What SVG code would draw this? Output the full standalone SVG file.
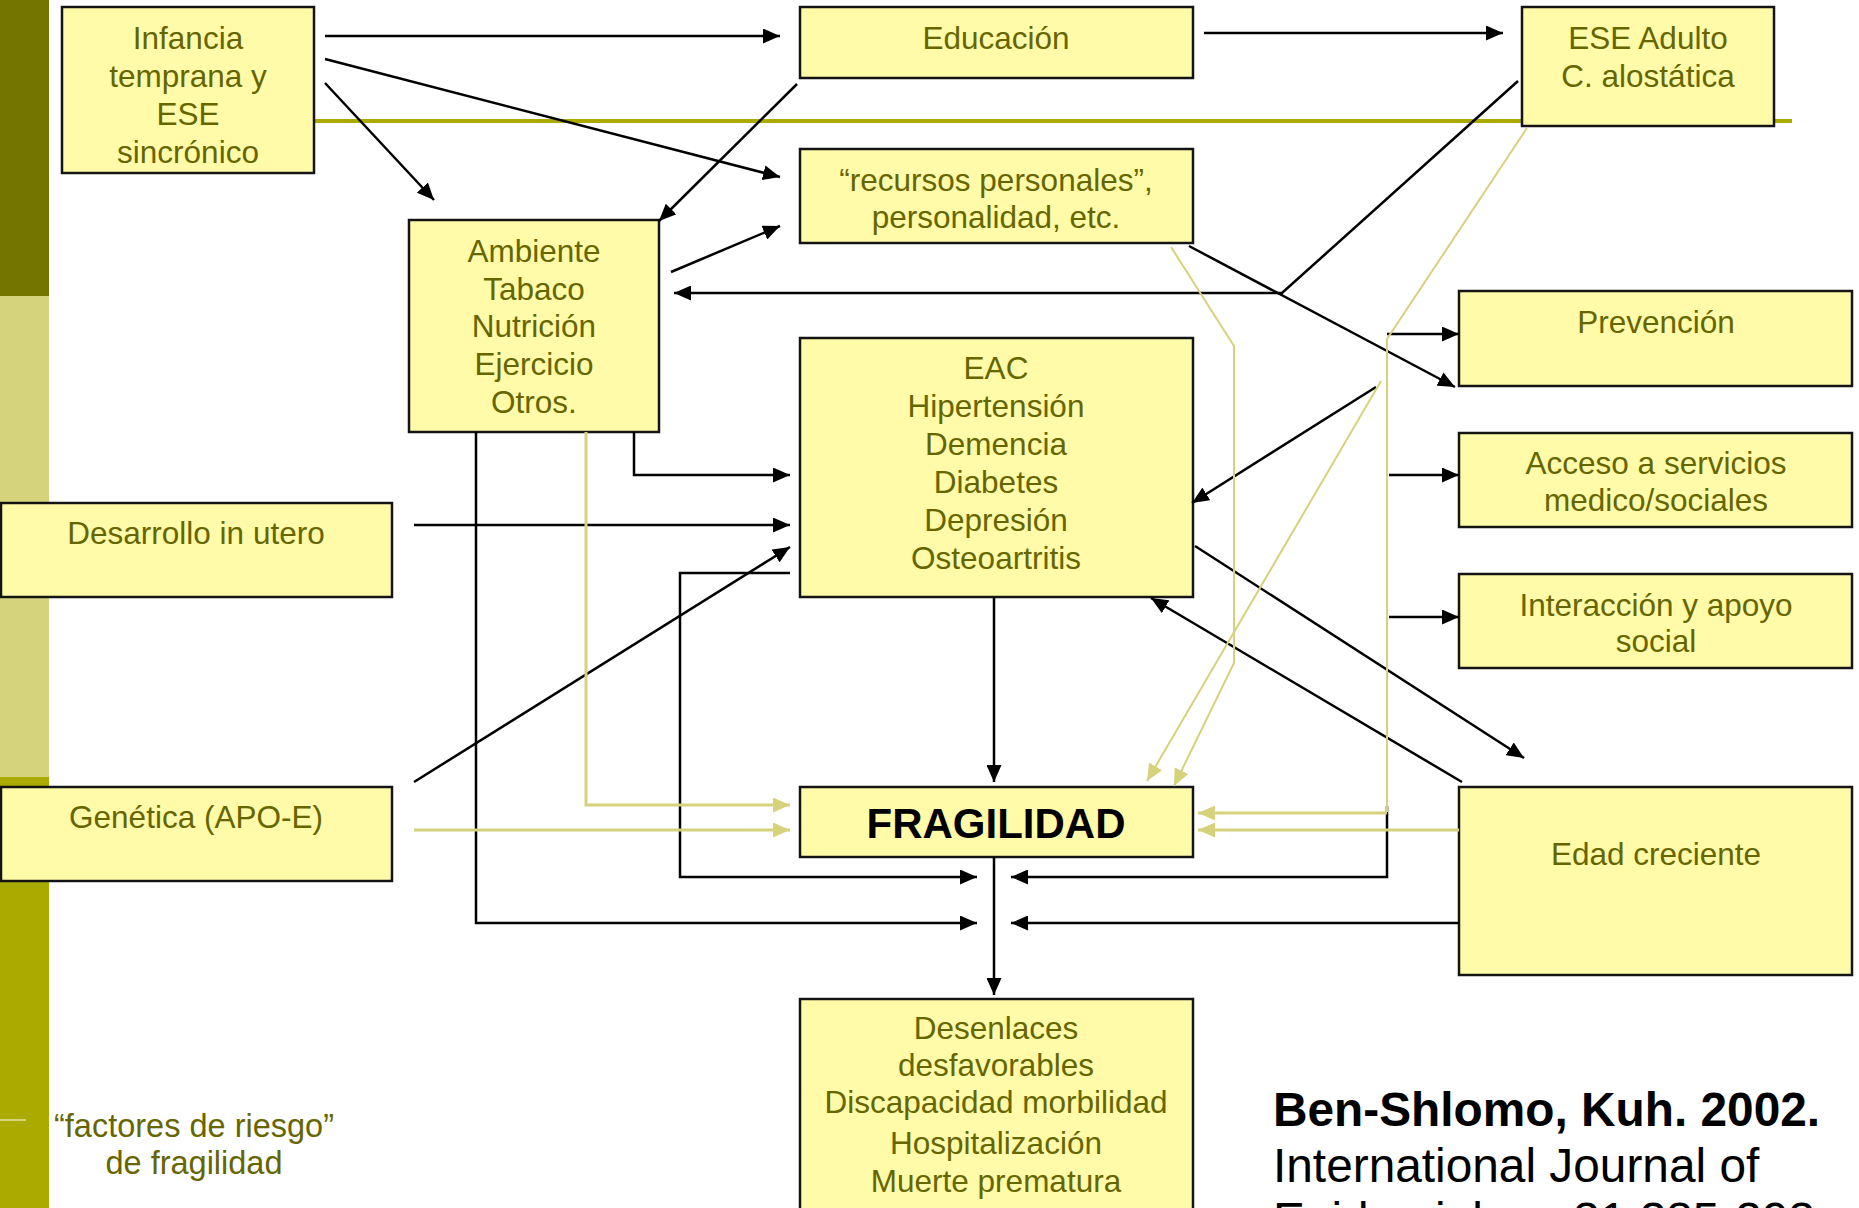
<svg xmlns="http://www.w3.org/2000/svg" width="1859" height="1208" viewBox="0 0 1859 1208">
  <defs>
    <style>
      .box { fill: #FFFBA8; stroke: #141414; stroke-width: 2.5; }
      .t { font-family: "Liberation Sans", Arial, Helvetica, sans-serif; font-size: 31.5px; fill: #666600; text-anchor: middle; }
      .tb { font-family: "Liberation Sans", Arial, Helvetica, sans-serif; font-size: 42px; font-weight: bold; fill: #000; text-anchor: middle; }
      .cite { font-family: "Liberation Sans", Arial, Helvetica, sans-serif; font-size: 47.8px; fill: #000; }
      .k { fill: none; stroke: #000; stroke-width: 2.5; marker-end: url(#arrowK); }
      .y { fill: none; stroke: #D6D27C; stroke-width: 2; }
      .ya { fill: none; stroke: #D6D27C; stroke-width: 2; marker-end: url(#arrowY); }
      .yw { fill: none; stroke: #D6D27C; stroke-width: 3; marker-end: url(#arrowY); }
    </style>
    <marker id="arrowK" markerUnits="userSpaceOnUse" markerWidth="17" markerHeight="15" refX="17" refY="7.5" orient="auto">
      <path d="M0,0 L17,7.5 L0,15 Z" fill="#000"/>
    </marker>
    <marker id="arrowY" markerUnits="userSpaceOnUse" markerWidth="17" markerHeight="15" refX="17" refY="7.5" orient="auto">
      <path d="M0,0 L17,7.5 L0,15 Z" fill="#D6D27C"/>
    </marker>
  </defs>

  <rect width="1859" height="1208" fill="#fff"/>

  <!-- side band and divider -->
  <g id="background">
    <rect x="0" y="0" width="49" height="296" fill="#747400"/>
    <rect x="0" y="296" width="49" height="481" fill="#D5D37B"/>
    <rect x="0" y="777" width="49" height="431" fill="#AAAA00"/>
    <line x1="0" y1="1120" x2="26" y2="1120" stroke="#D5D37B" stroke-width="2"/>
    <line x1="70" y1="121" x2="1792" y2="121" stroke="#AAAA00" stroke-width="4"/>
  </g>

  <g id="nodes">
    <g id="node-infancia">
      <rect class="box" x="62" y="7" width="252" height="166"/>
      <text class="t" x="188" y="49">Infancia</text>
      <text class="t" x="188" y="87">temprana y</text>
      <text class="t" x="188" y="125">ESE</text>
      <text class="t" x="188" y="163">sincrónico</text>
    </g>
    <g id="node-educacion">
      <rect class="box" x="800" y="7" width="393" height="71"/>
      <text class="t" x="996" y="49">Educación</text>
    </g>
    <g id="node-ese-adulto">
      <rect class="box" x="1522" y="7" width="252" height="119"/>
      <text class="t" x="1648" y="49">ESE Adulto</text>
      <text class="t" x="1648" y="87">C. alostática</text>
    </g>
    <g id="node-recursos">
      <rect class="box" x="800" y="149" width="393" height="94"/>
      <text class="t" x="996" y="191">“recursos personales”,</text>
      <text class="t" x="996" y="228">personalidad, etc.</text>
    </g>
    <g id="node-ambiente">
      <rect class="box" x="409" y="220" width="250" height="212"/>
      <text class="t" x="534" y="262">Ambiente</text>
      <text class="t" x="534" y="300">Tabaco</text>
      <text class="t" x="534" y="337">Nutrición</text>
      <text class="t" x="534" y="375">Ejercicio</text>
      <text class="t" x="534" y="413">Otros.</text>
    </g>
    <g id="node-eac">
      <rect class="box" x="800" y="338" width="393" height="259"/>
      <text class="t" x="996" y="379">EAC</text>
      <text class="t" x="996" y="417">Hipertensión</text>
      <text class="t" x="996" y="455">Demencia</text>
      <text class="t" x="996" y="493">Diabetes</text>
      <text class="t" x="996" y="531">Depresión</text>
      <text class="t" x="996" y="569">Osteoartritis</text>
    </g>
    <g id="node-desarrollo">
      <rect class="box" x="1" y="503" width="391" height="94"/>
      <text class="t" x="196" y="544">Desarrollo in utero</text>
    </g>
    <g id="node-genetica">
      <rect class="box" x="1" y="787" width="391" height="94"/>
      <text class="t" x="196" y="828">Genética (APO-E)</text>
    </g>
    <g id="node-fragilidad">
      <rect class="box" x="800" y="787" width="393" height="70"/>
      <text class="tb" x="996" y="838">FRAGILIDAD</text>
    </g>
    <g id="node-desenlaces">
      <rect class="box" x="800" y="999" width="393" height="240"/>
      <text class="t" x="996" y="1039">Desenlaces</text>
      <text class="t" x="996" y="1076">desfavorables</text>
      <text class="t" x="996" y="1113">Discapacidad morbilidad</text>
      <text class="t" x="996" y="1154">Hospitalización</text>
      <text class="t" x="996" y="1192">Muerte prematura</text>
    </g>
    <g id="node-prevencion">
      <rect class="box" x="1459" y="291" width="393" height="95"/>
      <text class="t" x="1656" y="333">Prevención</text>
    </g>
    <g id="node-acceso">
      <rect class="box" x="1459" y="433" width="393" height="94"/>
      <text class="t" x="1656" y="474">Acceso a servicios</text>
      <text class="t" x="1656" y="511">medico/sociales</text>
    </g>
    <g id="node-interaccion">
      <rect class="box" x="1459" y="574" width="393" height="94"/>
      <text class="t" x="1656" y="616">Interacción y apoyo</text>
      <text class="t" x="1656" y="652">social</text>
    </g>
    <g id="node-edad">
      <rect class="box" x="1459" y="787" width="393" height="188"/>
      <text class="t" x="1656" y="865">Edad creciente</text>
    </g>
  </g>

  <g id="connectors">
    <!-- black links -->
    <path class="k" d="M325,36 L780,36"/>
    <path class="k" d="M325,59 L780,177"/>
    <path class="k" d="M325,83 L434,200"/>
    <path class="k" d="M1204,33 L1503,33"/>
    <path class="k" d="M797,84 L659,221"/>
    <path class="k" d="M671,272 L780,226"/>
    <path class="k" d="M1518,81 L1282,293 L674,293"/>
    <path class="k" d="M1189,246 L1455,387"/>
    <path class="k" d="M1387,334 L1459,334"/>
    <path class="k" d="M1389,475 L1459,475"/>
    <path class="k" d="M1389,617 L1459,617"/>
    <path class="k" d="M1376,387 L1192,503"/>
    <path class="k" d="M1195,546 L1524,758"/>
    <path class="k" d="M1462,782 L1151,598"/>
    <path class="k" d="M634,432 L634,475 L790,475"/>
    <path class="k" d="M414,525 L790,525"/>
    <path class="k" d="M414,782 L790,547"/>
    <path class="k" d="M790,573 L680,573 L680,877 L977,877"/>
    <path class="k" d="M476,432 L476,923 L977,923"/>
    <path class="k" d="M1459,923 L1011,923"/>
    <path class="k" d="M1387,806 L1387,877 L1011,877"/>
    <path class="k" d="M994,597 L994,782"/>
    <path class="k" d="M994,857 L994,995"/>

    <!-- light links -->
    <path class="ya" d="M1171,247 L1234,346 L1234,663 L1174,786"/>
    <path class="y" d="M1527,128 L1387,339 L1387,812"/>
    <path class="yw" d="M1387,813 L1198,813"/>
    <path class="ya" d="M1381,381 L1147,781"/>
    <path class="yw" d="M1459,830 L1198,830"/>
    <path class="yw" d="M414,830 L790,830"/>
    <path class="yw" d="M586,432 L586,805 L790,805"/>
  </g>

  <g id="labels">
    <text class="t" x="194" y="1137" style="font-size:32.5px">“factores de riesgo”</text>
    <text class="t" x="194" y="1174" style="font-size:32.5px">de fragilidad</text>
    <text class="cite" x="1273" y="1126" font-weight="bold">Ben-Shlomo, Kuh. 2002.</text>
    <text class="cite" x="1273" y="1182">International Journal of</text>
    <text class="cite" x="1273" y="1236">Epidemiology 31:285-293</text>
  </g>
</svg>
